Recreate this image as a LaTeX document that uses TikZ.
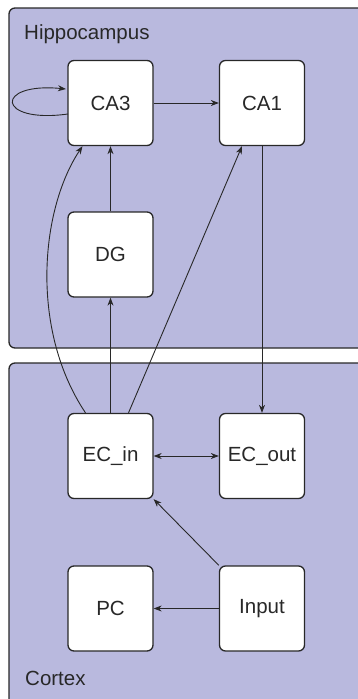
\documentclass[tikz,border=0pt]{standalone}
\usepackage{fontspec}
\setmainfont{Liberation Sans}
\usetikzlibrary{arrows.meta}
\definecolor{panelfill}{RGB}{185,185,222}
\definecolor{edgecol}{RGB}{40,40,40}
\tikzset{
  panel/.style={draw=edgecol, line width=1.3pt, fill=panelfill, rounded corners=6pt},
  unit/.style={draw=edgecol, line width=1.3pt, fill=white, rounded corners=6pt,
    minimum width=85pt, minimum height=85pt, inner sep=0pt, font=\fontsize{20.5}{24}\selectfont, text=edgecol},
  lbl/.style={anchor=west, inner sep=0pt, font=\fontsize{20.5}{24}\selectfont, text=edgecol},
  conn/.style={draw=edgecol, line width=0.9pt, -{Stealth[length=8pt,width=6pt,inset=2.5pt]}},
  biconn/.style={draw=edgecol, line width=0.9pt, {Stealth[length=8pt,width=6pt,inset=2.5pt]}-{Stealth[length=8pt,width=6pt,inset=2.5pt]}}
}
\begin{document}
\begin{tikzpicture}[x=1pt,y=-1pt]
\useasboundingbox (0,0) rectangle (358,699);
\begin{scope}
\clip (0,0) rectangle (358,699);
\draw[panel] (9,8) rectangle (372,348);
\draw[panel] (9,363) rectangle (372,712);
\end{scope}
\node[lbl] (hip) at (24,34) {Hippocampus};
\node[lbl] (ctx) at (25,678) {Cortex};

\node[unit] (CA3) at (110.5,103) {CA3};
\node[unit] (CA1) at (262,103) {CA1};
\node[unit] (DG) at (110.5,254.5) {DG};
\node[unit] (ECin) at (110.5,456) {EC\_in};
\node[unit] (ECout) at (262,456) {EC\_out};
\node[unit] (PC) at (110.5,608.5) {PC};
\node[unit] (Input) at (262,608.5) {Input};

\coordinate (loopA) at (68,114);
\coordinate (loopB) at (66,89);
\draw[conn] (loopA) .. controls (-4,124) and (-6,82) .. (loopB);
\draw[conn] (CA3.east) -- (CA1.west);
\draw[conn] (DG.north) -- (CA3.south);
\draw[conn] (ECin.north) -- (DG.south);
\draw[conn] ([xshift=-25pt]ECin.north) .. controls (30,330) and (40,210) .. ([xshift=-28pt]CA3.south);
\draw[conn] ([xshift=18pt]ECin.north) -- ([xshift=-20pt]CA1.south);
\draw[conn] (CA1.south) -- (ECout.north);
\draw[biconn] (ECin.east) -- (ECout.west);
\draw[conn] (Input.north west) -- (ECin.south east);
\draw[conn] (Input.west) -- (PC.east);
\end{tikzpicture}
\end{document}
